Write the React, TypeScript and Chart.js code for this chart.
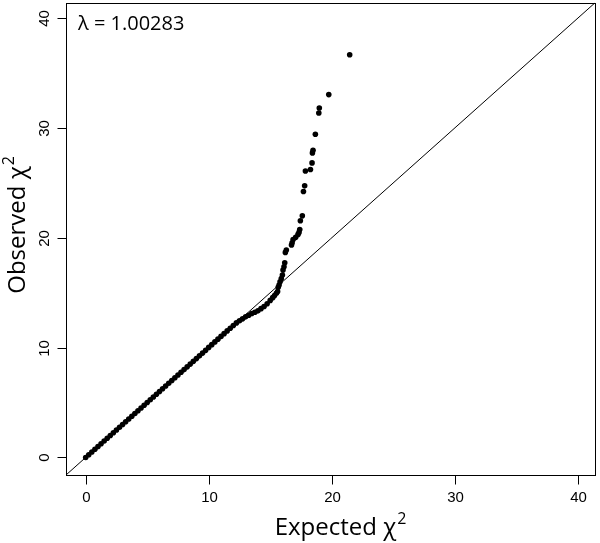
import React, { useEffect, useRef } from "react";
import { Chart, registerables } from "chart.js";

Chart.register(...registerables);

// ---- data ----
const AXIS_MIN = -1.6;
const AXIS_MAX = 41.4;
const tickValues = [0, 10, 20, 30, 40];
const xTitle = "Expected χ";
const yTitle = "Observed χ";
const superscript = "2";
const lambdaLabel = "λ = 1.00283";

// bulk of the QQ points (lie on the diagonal)
const expectedBody = [
  0, 0.25, 0.5, 0.75, 1, 1.25, 1.5, 1.75, 2, 2.25, 2.5, 2.75, 3, 3.25, 3.5, 3.75,
  4, 4.25, 4.5, 4.75, 5, 5.25, 5.5, 5.75, 6, 6.25, 6.5, 6.75, 7, 7.25, 7.5, 7.75,
  8, 8.25, 8.5, 8.75, 9, 9.25, 9.5, 9.75, 10, 10.25, 10.5, 10.75, 11, 11.25, 11.5,
  11.75, 12,
];
const observedBody = [
  0, 0.25, 0.5, 0.75, 1, 1.25, 1.5, 1.75, 2, 2.25, 2.5, 2.75, 3, 3.25, 3.5, 3.75,
  4, 4.25, 4.5, 4.75, 5, 5.25, 5.5, 5.75, 6, 6.25, 6.5, 6.75, 7, 7.25, 7.5, 7.75,
  8, 8.25, 8.5, 8.75, 9, 9.25, 9.5, 9.75, 10.02, 10.27, 10.52, 10.77, 11.02, 11.27,
  11.52, 11.77, 12.02,
];
// bend below the diagonal
const expectedBend = [
  12.25, 12.5, 12.75, 13, 13.25, 13.5, 13.75, 14, 14.25, 14.5, 14.75, 15, 15.2,
  15.35, 15.5, 15.6,
];
const observedBend = [
  12.25, 12.45, 12.62, 12.8, 12.95, 13.1, 13.22, 13.35, 13.55, 13.75, 14.0, 14.3,
  14.55, 14.75, 14.95, 15.1,
];
// upper tail
const expectedTail = [
  15.65, 15.72, 15.8, 15.9, 15.99, 16.04, 16.12, 16.18, 16.23, 16.31, 16.73, 16.78,
  16.86, 17.07, 17.26, 17.34, 17.4, 17.45, 17.61, 17.7, 17.8, 17.86, 18.27, 18.4,
  18.43, 18.48, 18.67, 18.95, 18.99, 19.76, 21.46,
];
const observedTail = [
  15.5, 15.7, 16.0, 16.3, 16.61, 17.06, 17.36, 17.73, 18.67, 18.88, 19.34, 19.55,
  19.85, 20.04, 20.31, 20.49, 20.76, 21.55, 22.0, 24.22, 24.73, 26.09, 26.22, 26.82,
  27.73, 27.97, 29.43, 31.36, 31.82, 33.04, 36.67,
];

const TICK_FONT = "15px 'Liberation Sans', Arial, sans-serif";
const TITLE_FONT_FAMILY = "'Open Sans', 'Noto Sans', sans-serif";

function pairs(xs: number[], ys: number[]) {
  return xs.map((x, i) => ({ x, y: ys[i] }));
}

const axesPlugin = {
  id: "rAxes",
  afterDraw(chart: any) {
    const ctx: CanvasRenderingContext2D = chart.ctx;
    const { left, right, top, bottom } = chart.chartArea;
    const xs = chart.scales.x;
    const ys = chart.scales.y;
    ctx.save();
    ctx.strokeStyle = "#000";
    ctx.fillStyle = "#000";
    ctx.lineWidth = 1;
    // box
    ctx.strokeRect(Math.round(left) + 0.5, Math.round(top) + 0.5, Math.round(right - left), Math.round(bottom - top));
    const tickLen = 9;
    ctx.font = TICK_FONT;
    // x ticks
    ctx.textAlign = "center";
    ctx.textBaseline = "middle";
    tickValues.forEach((v) => {
      const px = Math.round(xs.getPixelForValue(v)) + 0.5;
      ctx.beginPath();
      ctx.moveTo(px, Math.round(bottom) + 0.5);
      ctx.lineTo(px, Math.round(bottom) + 0.5 + tickLen);
      ctx.stroke();
      ctx.fillText(String(v), px, bottom + 23);
    });
    // y ticks
    tickValues.forEach((v) => {
      const py = Math.round(ys.getPixelForValue(v)) + 0.5;
      ctx.beginPath();
      ctx.moveTo(Math.round(left) + 0.5 - tickLen, py);
      ctx.lineTo(Math.round(left) + 0.5, py);
      ctx.stroke();
      ctx.save();
      ctx.translate(left - 21, py);
      ctx.rotate(-Math.PI / 2);
      ctx.fillText(String(v), 0, 0);
      ctx.restore();
    });

    // titles with superscript
    const drawTitle = (text: string) => {
      ctx.font = `24px ${TITLE_FONT_FAMILY}`;
      const w1 = ctx.measureText(text).width;
      ctx.font = `16px ${TITLE_FONT_FAMILY}`;
      const w2 = ctx.measureText(superscript).width;
      const total = w1 + w2 + 1;
      ctx.textAlign = "left";
      ctx.textBaseline = "alphabetic";
      ctx.font = `24px ${TITLE_FONT_FAMILY}`;
      ctx.fillText(text, -total / 2, 0);
      ctx.font = `16px ${TITLE_FONT_FAMILY}`;
      ctx.fillText(superscript, -total / 2 + w1 + 1, -11);
    };
    const cx = (left + right) / 2;
    ctx.save();
    ctx.translate(cx + 10, bottom + 60);
    drawTitle(xTitle);
    ctx.restore();
    const cy = (top + bottom) / 2;
    ctx.save();
    ctx.translate(25, cy - 14);
    ctx.rotate(-Math.PI / 2);
    drawTitle(yTitle);
    ctx.restore();

    // lambda label
    ctx.font = `20px ${TITLE_FONT_FAMILY}`;
    ctx.textAlign = "left";
    ctx.textBaseline = "alphabetic";
    ctx.fillText(lambdaLabel, left + 12, top + 27);
    ctx.restore();
  },
};

export default function App() {
  const ref = useRef<HTMLCanvasElement | null>(null);
  useEffect(() => {
    if (!ref.current) return;
    const pointStyle = {
      type: "scatter" as const,
      backgroundColor: "#000",
      borderWidth: 0,
      pointRadius: 2.8,
      pointHoverRadius: 2.8,
      showLine: false,
    };
    const chart = new Chart(ref.current, {
      type: "scatter",
      data: {
        datasets: [
          {
            ...pointStyle,
            label: "body",
            data: pairs(expectedBody, observedBody),
          },
          {
            ...pointStyle,
            label: "bend",
            data: pairs(expectedBend, observedBend),
          },
          {
            ...pointStyle,
            label: "tail",
            data: pairs(expectedTail, observedTail),
          },
          {
            type: "line" as const,
            label: "y = x",
            data: [
              { x: AXIS_MIN, y: AXIS_MIN },
              { x: AXIS_MAX, y: AXIS_MAX },
            ],
            borderColor: "#000",
            borderWidth: 1,
            pointRadius: 0,
            fill: false,
          },
        ],
      } as any,
      options: {
        responsive: false,
        animation: false,
        devicePixelRatio: 1,
        layout: { padding: { left: 66, top: 2, right: 5, bottom: 68 } },
        plugins: {
          legend: { display: false },
          tooltip: { enabled: false },
        },
        scales: {
          x: { type: "linear", min: AXIS_MIN, max: AXIS_MAX, display: false },
          y: { type: "linear", min: AXIS_MIN, max: AXIS_MAX, display: false },
        },
      },
      plugins: [axesPlugin],
    });
    return () => chart.destroy();
  }, []);
  return (
    <div style={{ position: "fixed", left: 0, top: 0, width: 600, height: 543, background: "#fff" }}>
      <canvas ref={ref} width={600} height={543} />
    </div>
  );
}
